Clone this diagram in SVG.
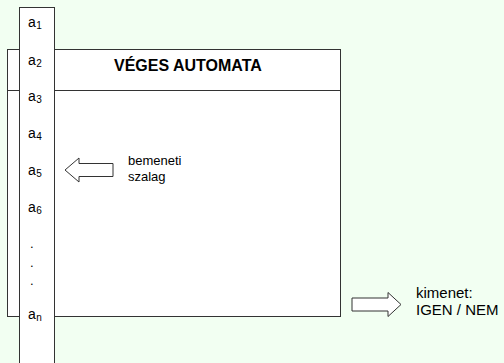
<svg xmlns="http://www.w3.org/2000/svg" width="504" height="363" viewBox="0 0 504 363">
<style>
.ln{fill:#fff;stroke:#333;stroke-width:1}
.t{font-family:"Liberation Sans",Arial,sans-serif;font-size:13px;fill:#000}
.a{font-size:14px}
.o{font-size:15px}
.s{font-size:10px}
.h{font-family:"Liberation Sans",Arial,sans-serif;font-size:16px;font-weight:bold;fill:#000}
</style>
<rect width="504" height="363" fill="#F2FFF2"/>
<g id="automata">
<rect class="ln" x="7.5" y="49.5" width="333" height="267"/>
<line class="ln" x1="7.5" y1="90.5" x2="340.5" y2="90.5"/>
<text class="h" x="114" y="71">VÉGES AUTOMATA</text>
</g>
<g id="tape">
<rect class="ln" x="19.5" y="7.5" width="35" height="360"/>
<text class="t a" x="28" y="27">a<tspan class="s" dx="0.5" dy="2">1</tspan></text>
<text class="t a" x="28" y="65">a<tspan class="s" dx="0.5" dy="2">2</tspan></text>
<text class="t a" x="28" y="101">a<tspan class="s" dx="0.5" dy="2">3</tspan></text>
<text class="t a" x="28" y="138">a<tspan class="s" dx="0.5" dy="2">4</tspan></text>
<text class="t a" x="28" y="175">a<tspan class="s" dx="0.5" dy="2">5</tspan></text>
<text class="t a" x="28" y="212">a<tspan class="s" dx="0.5" dy="2">6</tspan></text>
<text class="t" x="30" y="248">.</text>
<text class="t" x="30" y="267">.</text>
<text class="t" x="30" y="285">.</text>
<text class="t a" x="28" y="319">a<tspan class="s" dx="0.5" dy="2">n</tspan></text>
</g>
<g id="connectors">
<polygon class="ln" points="65,170 79,158 79,163.5 113,163.5 113,176.5 79,176.5 79,182"/>
<polygon class="ln" points="352,298 388,298 388,292.5 401,304.5 388,316.5 388,311 352,311"/>
</g>
<g id="input-label">
<text class="t" x="128" y="165">bemeneti</text>
<text class="t" x="128" y="181">szalag</text>
</g>
<g id="output-label">
<text class="t o" x="416" y="298">kimenet:</text>
<text class="t o" x="416" y="315">IGEN / NEM</text>
</g>
</svg>
